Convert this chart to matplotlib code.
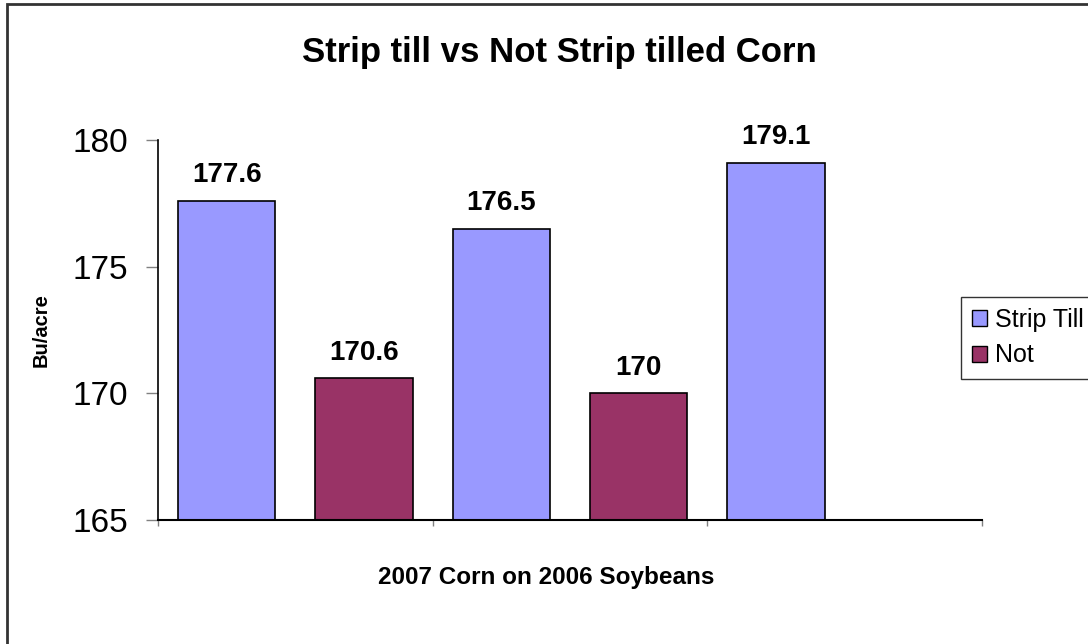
import matplotlib.pyplot as plt
from matplotlib.patches import Rectangle, Patch

plt.rcParams['font.family'] = ['Liberation Sans', 'DejaVu Sans']

# -----------------------------
# Data
# -----------------------------
series = ["Strip Till", "Not", "Strip Till", "Not", "Strip Till"]
values = [177.6, 170.6, 176.5, 170.0, 179.1]
labels = ["177.6", "170.6", "176.5", "170", "179.1"]
colors = {"Strip Till": "#9999FF", "Not": "#993366"}
yticks = [165, 170, 175, 180]

# -----------------------------
# Figure
# -----------------------------
fig = plt.figure(figsize=(10.88, 6.44), dpi=100)
ax = fig.add_axes([0.1452, 0.1925, 0.7574, 0.5901])

x = [i + 0.5 for i in range(len(values))]
ax.bar(
    x,
    [v - 165 for v in values],
    bottom=165,
    width=0.71,
    color=[colors[s] for s in series],
    edgecolor="black",
    linewidth=1.2,
    zorder=2
)

for xi, v, t in zip(x, values, labels):
    ax.annotate(
        t,
        (xi, v),
        xytext=(0, 9),
        textcoords="offset points",
        ha="center",
        va="bottom",
        fontsize=20,
        fontweight="bold"
    )

ax.set_xlim(0, 6)
ax.set_ylim(165, 180)
ax.set_yticks(yticks)
ax.set_yticklabels([str(t) for t in yticks], fontsize=24)
ax.set_xticks([0, 2, 4, 6])
ax.set_xticklabels([])
ax.tick_params(axis="y", length=8.5, width=1, color="#808080", pad=13)
ax.tick_params(axis="x", length=4, width=1, color="#808080")

for s in ["top", "right"]:
    ax.spines[s].set_visible(False)
ax.spines["left"].set_color("black")
ax.spines["bottom"].set_color("black")
ax.spines["left"].set_linewidth(1.2)
ax.spines["bottom"].set_linewidth(1.5)

fig.text(0.502, 0.1025, "2007 Corn on 2006 Soybeans", fontsize=17.5, fontweight="bold",
         ha="center", va="center")
fig.text(0.038, 0.487, "Bu/acre", rotation=90, fontsize=14.5, fontweight="bold",
         ha="center", va="center")

fig.text(0.514, 0.919, "Strip till vs Not Strip tilled Corn",
         fontsize=25, fontweight="bold", ha="center", va="center")

# legend
handles = [Patch(facecolor=colors["Strip Till"], edgecolor="black", label="Strip Till"),
           Patch(facecolor=colors["Not"], edgecolor="black", label="Not")]
leg = fig.legend(
    handles=handles,
    loc="upper left",
    bbox_to_anchor=(961 / 1088, 1 - 297 / 644),
    fontsize=18,
    frameon=True,
    fancybox=False,
    handlelength=0.6,
    handleheight=0.6,
    handletextpad=0.3,
    labelspacing=0.45,
    borderpad=0.45,
    borderaxespad=0
)
leg.get_frame().set_edgecolor("black")
leg.get_frame().set_linewidth(1)

# outer chart border
fig.patches.append(Rectangle((7 / 1088, -0.1), 1.2, 1 - 4 / 644 + 0.1,
                             transform=fig.transFigure, fill=False,
                             edgecolor="#333333", linewidth=2))

fig.savefig("out.png", dpi=100)
